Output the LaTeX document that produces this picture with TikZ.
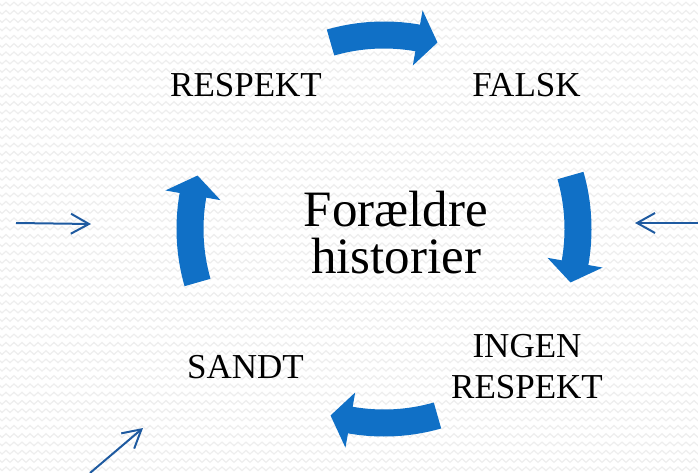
\documentclass[tikz,border=0pt]{standalone}
\usepackage{fontspec}
\setmainfont{Liberation Serif}
\usetikzlibrary{arrows.meta,decorations.pathmorphing,calc}
\definecolor{bigblue}{RGB}{16,112,198}
\definecolor{thinblue}{RGB}{30,90,160}
\definecolor{bgline}{RGB}{238,238,238}
\newcommand\bigcurve[1]{%
  \fill[bigarrow] ($(C)+({#1+16}:207.5)$) arc[start angle={#1+16}, end angle={#1-10}, radius=207.5]
    -- ($(C)+({#1-10}:222)$) -- ($(C)+({#1-16}:194)$) -- ($(C)+({#1-10}:166)$)
    -- ($(C)+({#1-10}:180.5)$) arc[start angle={#1-10}, end angle={#1+16}, radius=180.5] -- cycle;}
\begin{document}
\begin{tikzpicture}[x=1pt,y=1pt,
  cyclelabel/.style={font=\fontsize{35}{41}\selectfont, inner sep=0pt},
  core/.style={font=\fontsize{51}{47}\selectfont, inner sep=0pt, align=center},
  bigarrow/.style={fill=bigblue},
  thinarrow/.style={draw=thinblue, line width=2pt, -{Straight Barb[length=18pt,width=20pt,line width=2pt]}},
  bgzig/.style={draw=bgline, line width=1.2pt, decorate, decoration={zigzag,segment length=8pt,amplitude=1.8pt}}]
\useasboundingbox (0,0) rectangle (698,472);
\fill[white] (0,0) rectangle (698,472);
\begin{scope}
\clip (0,0) rectangle (698,472);
\foreach \k in {0,...,57} \draw[bgzig] (-4,{468-\k*8.3}) -- (704,{468-\k*8.3});
\end{scope}
\coordinate (C) at (384,243);
\bigcurve{90}
\bigcurve{0}
\bigcurve{-90}
\bigcurve{180}
\coordinate (l0) at (16,249); \coordinate (l1) at (91,248);
\coordinate (r0) at (699,249); \coordinate (r1) at (635,249);
\coordinate (b0) at (90,-1); \coordinate (b1) at (143,44);
\draw[thinarrow] (l0) -- (l1);
\draw[thinarrow] (r0) -- (r1);
\draw[thinarrow] (b0) -- (b1);
\node[cyclelabel, anchor=base] (respekt) at (246,375) {RESPEKT};
\node[cyclelabel, anchor=base] (falsk) at (526.5,375) {FALSK};
\node[cyclelabel, anchor=base] (sandt) at (245.5,94) {SANDT};
\node[cyclelabel, align=center] (ingen) at (527,105) {INGEN\\RESPEKT};
\node[core] (center) at (396,239) {Forældre\\historier};
\end{tikzpicture}
\end{document}
